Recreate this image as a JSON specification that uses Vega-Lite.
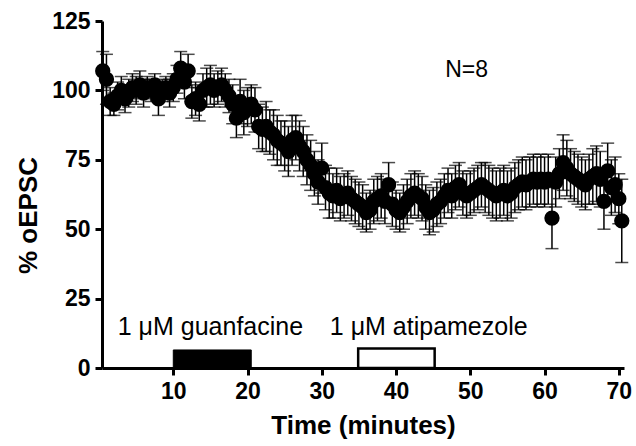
{
  "$schema": "https://vega.github.io/schema/vega-lite/v6.json",
  "autosize": "none",
  "width": 522,
  "height": 347,
  "padding": {"left": 102, "top": 21, "right": 12, "bottom": 78},
  "background": "white",
  "config": {
    "view": {"stroke": null},
    "axis": {
      "grid": false,
      "domainColor": "black",
      "domainWidth": 3,
      "tickColor": "black",
      "tickWidth": 3,
      "tickSize": 7,
      "labelColor": "black",
      "labelFont": "Liberation Sans",
      "labelFontWeight": "bold",
      "labelFontSize": 23,
      "titleColor": "black",
      "titleFont": "Liberation Sans",
      "titleFontWeight": "bold",
      "titleFontSize": 26
    }
  },
  "datasets": {
    "series": [
      {"t":0.5,"v":107,"e":7},{"t":1.0,"v":104,"e":9},{"t":1.5,"v":96,"e":5},{"t":2.0,"v":95,"e":4},
      {"t":2.5,"v":98,"e":5},{"t":3.0,"v":100,"e":5},{"t":3.5,"v":97,"e":5},{"t":4.0,"v":99,"e":5},
      {"t":4.5,"v":101,"e":5},{"t":5.0,"v":100,"e":5},{"t":5.5,"v":102,"e":5},{"t":6.0,"v":99,"e":5},
      {"t":6.5,"v":101,"e":4},{"t":7.0,"v":100,"e":4},{"t":7.5,"v":102,"e":4},{"t":8.0,"v":97,"e":6},
      {"t":8.5,"v":100,"e":4},{"t":9.0,"v":101,"e":4},{"t":9.5,"v":99,"e":5},{"t":10.0,"v":101,"e":5},
      {"t":10.5,"v":104,"e":5},{"t":11.0,"v":108,"e":6},{"t":11.5,"v":103,"e":6},{"t":12.0,"v":107,"e":6},
      {"t":12.5,"v":96,"e":6},{"t":13.0,"v":97,"e":6},{"t":13.5,"v":95,"e":6},{"t":14.0,"v":100,"e":6},
      {"t":14.5,"v":101,"e":7},{"t":15.0,"v":102,"e":7},{"t":15.5,"v":100,"e":6},{"t":16.0,"v":101,"e":6},
      {"t":16.5,"v":102,"e":6},{"t":17.0,"v":100,"e":6},{"t":17.5,"v":98,"e":6},{"t":18.0,"v":95,"e":7},
      {"t":18.5,"v":90,"e":7},{"t":19.0,"v":96,"e":8},{"t":19.5,"v":92,"e":8},{"t":20.0,"v":94,"e":7},
      {"t":20.5,"v":95,"e":7},{"t":21.0,"v":93,"e":8},{"t":21.5,"v":87,"e":8},{"t":22.0,"v":86,"e":8},
      {"t":22.5,"v":87,"e":9},{"t":23.0,"v":85,"e":8},{"t":23.5,"v":84,"e":9},{"t":24.0,"v":82,"e":9},
      {"t":24.5,"v":81,"e":8},{"t":25.0,"v":80,"e":9},{"t":25.5,"v":78,"e":9},{"t":26.0,"v":82,"e":9},
      {"t":26.5,"v":83,"e":8},{"t":27.0,"v":80,"e":9},{"t":27.5,"v":78,"e":9},{"t":28.0,"v":75,"e":9},
      {"t":28.5,"v":73,"e":9},{"t":29.0,"v":70,"e":8},{"t":29.5,"v":67,"e":8},{"t":30.0,"v":72,"e":9},
      {"t":30.5,"v":65,"e":8},{"t":31.0,"v":63,"e":9},{"t":31.5,"v":62,"e":8},{"t":32.0,"v":64,"e":8},
      {"t":32.5,"v":61,"e":8},{"t":33.0,"v":62,"e":8},{"t":33.5,"v":63,"e":8},{"t":34.0,"v":61,"e":8},
      {"t":34.5,"v":60,"e":8},{"t":35.0,"v":59,"e":8},{"t":35.5,"v":58,"e":8},{"t":36.0,"v":56,"e":7},
      {"t":36.5,"v":57,"e":7},{"t":37.0,"v":60,"e":8},{"t":37.5,"v":61,"e":8},{"t":38.0,"v":62,"e":8},
      {"t":38.5,"v":60,"e":8},{"t":39.0,"v":66,"e":8},{"t":39.5,"v":59,"e":8},{"t":40.0,"v":57,"e":7},
      {"t":40.5,"v":56,"e":7},{"t":41.0,"v":58,"e":8},{"t":41.5,"v":60,"e":8},{"t":42.0,"v":62,"e":8},
      {"t":42.5,"v":63,"e":8},{"t":43.0,"v":62,"e":8},{"t":43.5,"v":61,"e":8},{"t":44.0,"v":58,"e":8},
      {"t":44.5,"v":56,"e":8},{"t":45.0,"v":57,"e":8},{"t":45.5,"v":59,"e":8},{"t":46.0,"v":60,"e":8},
      {"t":46.5,"v":62,"e":8},{"t":47.0,"v":64,"e":8},{"t":47.5,"v":62,"e":8},{"t":48.0,"v":65,"e":8},
      {"t":48.5,"v":66,"e":8},{"t":49.0,"v":63,"e":8},{"t":49.5,"v":62,"e":8},{"t":50.0,"v":63,"e":8},
      {"t":50.5,"v":64,"e":8},{"t":51.0,"v":65,"e":8},{"t":51.5,"v":66,"e":8},{"t":52.0,"v":65,"e":9},
      {"t":52.5,"v":64,"e":9},{"t":53.0,"v":63,"e":9},{"t":53.5,"v":62,"e":9},{"t":54.0,"v":63,"e":9},
      {"t":54.5,"v":64,"e":9},{"t":55.0,"v":62,"e":9},{"t":55.5,"v":63,"e":9},{"t":56.0,"v":65,"e":9},
      {"t":56.5,"v":66,"e":9},{"t":57.0,"v":67,"e":9},{"t":57.5,"v":66,"e":9},{"t":58.0,"v":67,"e":9},
      {"t":58.5,"v":68,"e":9},{"t":59.0,"v":67,"e":9},{"t":59.5,"v":68,"e":9},{"t":60.0,"v":67,"e":9},
      {"t":60.5,"v":68,"e":9},{"t":61.0,"v":54,"e":11},{"t":61.5,"v":67,"e":9},{"t":62.0,"v":70,"e":9},
      {"t":62.5,"v":74,"e":10},{"t":63.0,"v":72,"e":10},{"t":63.5,"v":70,"e":9},{"t":64.0,"v":69,"e":9},
      {"t":64.5,"v":68,"e":9},{"t":65.0,"v":67,"e":9},{"t":65.5,"v":66,"e":9},{"t":66.0,"v":68,"e":9},
      {"t":66.5,"v":69,"e":10},{"t":67.0,"v":70,"e":10},{"t":67.5,"v":68,"e":10},{"t":68.0,"v":60,"e":10},
      {"t":68.5,"v":71,"e":10},{"t":69.0,"v":65,"e":10},{"t":69.5,"v":66,"e":10},{"t":70.0,"v":61,"e":9},
      {"t":70.4,"v":53,"e":15}
    ],
    "notes": [
      {"x": 15.0, "y": 14.8, "label": "1 μM guanfacine"},
      {"x": 44.4, "y": 14.8, "label": "1 μM atipamezole"}
    ]
  },
  "layer": [
    {
      "data": {"name": "series"},
      "mark": {"type": "errorbar", "color": "black", "ticks": {"size": 13, "thickness": 1.5, "color": "black"}, "rule": {"strokeWidth": 1.5, "color": "black"}},
      "encoding": {
        "x": {"field": "t", "type": "quantitative", "scale": {"domain": [0.4, 70.7], "nice": false, "zero": false},
              "axis": {"values": [10, 20, 30, 40, 50, 60, 70], "title": "Time (minutes)", "labelPadding": 5, "titleY": 57, "titleBaseline": "middle"}},
        "y": {"field": "v", "type": "quantitative", "scale": {"domain": [0, 125], "nice": false},
              "axis": {"values": [0, 25, 50, 75, 100, 125], "title": "% oEPSC", "labelPadding": 5, "titleX": -74, "titleY": 194, "titleBaseline": "middle"}},
        "yError": {"field": "e"}
      }
    },
    {
      "data": {"name": "series"},
      "mark": {"type": "point", "filled": true, "shape": "circle", "size": 235, "color": "black", "opacity": 1},
      "encoding": {
        "x": {"field": "t", "type": "quantitative"},
        "y": {"field": "v", "type": "quantitative"}
      }
    },
    {
      "data": {"values": [{"start": 10, "end": 20.5, "lo": 0, "hi": 6.5}]},
      "mark": {"type": "rect", "fill": "black", "stroke": "black", "strokeWidth": 1},
      "encoding": {
        "x": {"field": "start", "type": "quantitative"},
        "x2": {"field": "end"},
        "y": {"field": "lo", "type": "quantitative"},
        "y2": {"field": "hi"}
      }
    },
    {
      "data": {"values": [{"start": 34.9, "end": 45.2, "lo": 0, "hi": 7}]},
      "mark": {"type": "rect", "fill": "white", "stroke": "black", "strokeWidth": 2.5},
      "encoding": {
        "x": {"field": "start", "type": "quantitative"},
        "x2": {"field": "end"},
        "y": {"field": "lo", "type": "quantitative"},
        "y2": {"field": "hi"}
      }
    },
    {
      "data": {"name": "notes"},
      "mark": {"type": "text", "font": "Liberation Sans", "fontSize": 25, "color": "black", "align": "center", "baseline": "middle"},
      "encoding": {
        "x": {"field": "x", "type": "quantitative"},
        "y": {"field": "y", "type": "quantitative"},
        "text": {"field": "label"}
      }
    },
    {
      "data": {"values": [{"x": 49.5, "y": 107.3, "label": "N=8"}]},
      "mark": {"type": "text", "font": "Liberation Sans", "fontSize": 23, "color": "black", "align": "center", "baseline": "middle"},
      "encoding": {
        "x": {"field": "x", "type": "quantitative"},
        "y": {"field": "y", "type": "quantitative"},
        "text": {"field": "label"}
      }
    }
  ]
}
